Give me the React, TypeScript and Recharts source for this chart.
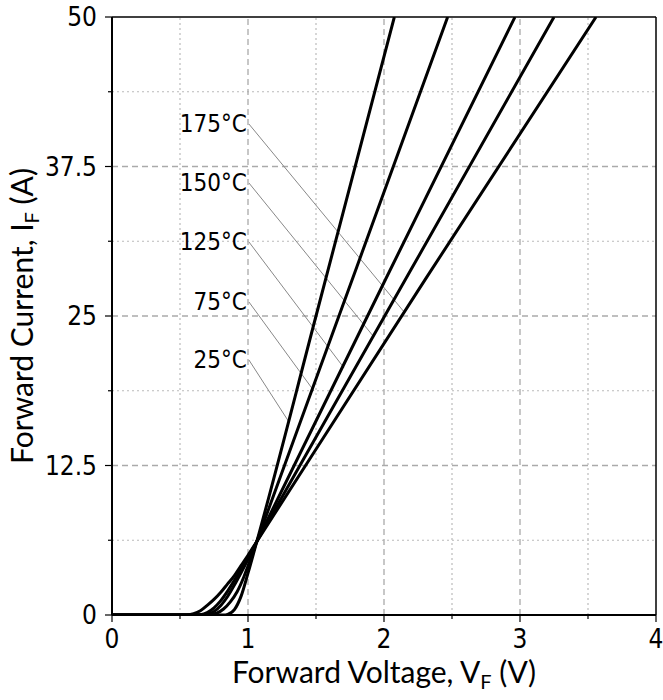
import React from 'react';
import { ComposedChart, Line, XAxis, YAxis, ReferenceLine, Scatter } from 'recharts';

// Forward characteristics (V, A)
const curve25 = [
  { v: 0, i: 0 }, { v: 0.82, i: 0 }, { v: 0.85, i: 0.05 }, { v: 0.9, i: 0.45 }, { v: 0.95, i: 1.6 },
  { v: 1.0, i: 3.5 }, { v: 1.065, i: 6.15 }, { v: 1.5, i: 25.0 }, { v: 2.076, i: 50 },
];
const curve75 = [
  { v: 0, i: 0 }, { v: 0.7, i: 0 }, { v: 0.72, i: 0.02 }, { v: 0.77, i: 0.15 }, { v: 0.82, i: 0.5 },
  { v: 0.87, i: 1.1 }, { v: 0.92, i: 1.95 }, { v: 0.97, i: 3.2 }, { v: 1.0, i: 4.1 }, { v: 1.065, i: 6.15 },
  { v: 1.8, i: 29.1 }, { v: 2.468, i: 50 },
];
const curve125 = [
  { v: 0, i: 0 }, { v: 0.65, i: 0 }, { v: 0.7, i: 0.07 }, { v: 0.75, i: 0.3 }, { v: 0.8, i: 0.8 },
  { v: 0.85, i: 1.55 }, { v: 0.9, i: 2.5 }, { v: 0.95, i: 3.55 }, { v: 1.0, i: 4.65 }, { v: 1.065, i: 6.15 },
  { v: 2.0, i: 27.8 }, { v: 2.963, i: 50 },
];
const curve150 = [
  { v: 0, i: 0 }, { v: 0.6, i: 0 }, { v: 0.65, i: 0.03 }, { v: 0.7, i: 0.2 }, { v: 0.75, i: 0.6 },
  { v: 0.8, i: 1.2 }, { v: 0.85, i: 2.0 }, { v: 0.9, i: 2.9 }, { v: 0.95, i: 3.85 }, { v: 1.0, i: 4.85 },
  { v: 1.065, i: 6.15 }, { v: 2.2, i: 28.9 }, { v: 3.25, i: 50 },
];
const curve175 = [
  { v: 0, i: 0 }, { v: 0.5, i: 0 }, { v: 0.55, i: 0.01 }, { v: 0.6, i: 0.1 }, { v: 0.65, i: 0.35 },
  { v: 0.7, i: 0.8 }, { v: 0.75, i: 1.3 }, { v: 0.8, i: 1.9 }, { v: 0.85, i: 2.6 }, { v: 0.9, i: 3.3 },
  { v: 0.95, i: 4.15 }, { v: 1.0, i: 5.0 }, { v: 1.065, i: 6.15 }, { v: 2.3, i: 28.0 }, { v: 3.559, i: 50 },
];

const seriesList = [curve25, curve75, curve125, curve150, curve175];

// Temperature labels and leader lines
const labelTexts = ['175°C', '150°C', '125°C', '75°C', '25°C'];
const labelV = [1.007, 1.007, 1.007, 1.007, 1.007];
const labelI = [41.05, 36.12, 31.19, 26.17, 21.32];
const leaderEndV = [2.154, 1.926, 1.706, 1.485, 1.301];
const leaderEndI = [25.25, 23.24, 20.65, 18.73, 16.14];

const xTicks = [0, 0.5, 1, 1.5, 2, 2.5, 3, 3.5, 4];
const xMajor = [0, 1, 2, 3, 4];
const yTicks = [0, 6.25, 12.5, 18.75, 25, 31.25, 37.5, 43.75, 50];
const yMajor = [0, 12.5, 25, 37.5, 50];
const xGridMajor = [1, 2, 3];
const xGridMinor = [0.5, 1.5, 2.5, 3.5];
const yGridMajor = [12.5, 25, 37.5];
const yGridMinor = [6.25, 18.75, 31.25, 43.75];

const labelData = labelTexts.map((t, k) => ({ v: labelV[k], i: labelI[k], t }));

const TICK_FONT = "'Liberation Sans Narrow', 'DejaVu Sans Condensed', sans-serif";
const TITLE_FONT = "Lato, 'Open Sans', sans-serif";

const XTick = (props: any) => {
  const { x, y, payload } = props;
  const major = xMajor.includes(payload.value);
  return (
    <g>
      <line x1={x} y1={y} x2={x} y2={y + (major ? 7 : 4)} stroke="#000" strokeWidth={1.2} />
      {major && (
        <text x={x} y={y + 33} textAnchor="middle" fontFamily={TICK_FONT} fontSize={26} fill="#000">
          {payload.value}
        </text>
      )}
    </g>
  );
};

const YTick = (props: any) => {
  const { x, y, payload } = props;
  const major = yMajor.includes(payload.value);
  return (
    <g>
      <line x1={x - (major ? 7 : 4)} y1={y} x2={x} y2={y} stroke="#000" strokeWidth={1.2} />
      {major && (
        <text x={x - 15} y={y + 9} textAnchor="end" fontFamily={TICK_FONT} fontSize={26} fill="#000">
          {payload.value}
        </text>
      )}
    </g>
  );
};

const XTitle = (props: any) => {
  const vb = props.viewBox || { x: 112, y: 615, width: 544 };
  const cx = vb.x + vb.width / 2;
  return (
    <text x={cx} y={vb.y + 68} textAnchor="middle" fontFamily={TITLE_FONT} fontSize={30} fill="#000">
      Forward Voltage, V<tspan fontSize={20} dy={6}>F</tspan><tspan dy={-6}> (V)</tspan>
    </text>
  );
};

const YTitle = () => {
  const cx = 33;
  const cy = 316;
  return (
    <text x={cx} y={cy} transform={`rotate(-90 ${cx} ${cy})`} textAnchor="middle" fontFamily={TITLE_FONT} fontSize={30} fill="#000">
      Forward Current, I<tspan fontSize={20} dy={6}>F</tspan><tspan dy={-6}> (A)</tspan>
    </text>
  );
};

const LabelShape = (props: any) => {
  const { cx, cy, payload } = props;
  return (
    <text x={cx - 2} y={cy + 8} textAnchor="end" fontFamily={TICK_FONT} fontSize={24} fill="#000">
      {payload.t}
    </text>
  );
};

export default function App() {
  return (
    <div style={{ position: 'absolute', left: 0, top: 0 }}>
      <ComposedChart width={663} height={700} margin={{ top: 17, right: 7, bottom: 0, left: 0 }}>
        <XAxis
          type="number"
          dataKey="v"
          domain={[0, 4]}
          ticks={xTicks}
          interval={0}
          tick={<XTick />}
          tickLine={false}
          tickSize={0}
          tickMargin={0}
          axisLine={{ stroke: '#000', strokeWidth: 2 }}
          height={85}
          allowDataOverflow
          label={<XTitle />}
        />
        <YAxis
          type="number"
          domain={[0, 50]}
          ticks={yTicks}
          interval={0}
          tick={<YTick />}
          tickLine={false}
          tickSize={0}
          tickMargin={0}
          axisLine={{ stroke: '#000', strokeWidth: 2 }}
          width={112}
          allowDataOverflow
          label={<YTitle />}
        />
        {xGridMinor.map((v) => (
          <ReferenceLine key={'xm' + v} x={v} stroke="#bbb" strokeWidth={1.2} strokeDasharray="2 3" />
        ))}
        {yGridMinor.map((v) => (
          <ReferenceLine key={'ym' + v} y={v} stroke="#bbb" strokeWidth={1.2} strokeDasharray="2 3" />
        ))}
        {xGridMajor.map((v) => (
          <ReferenceLine key={'xM' + v} x={v} stroke="#aaa" strokeWidth={1.3} strokeDasharray="6 4" />
        ))}
        {yGridMajor.map((v) => (
          <ReferenceLine key={'yM' + v} y={v} stroke="#aaa" strokeWidth={1.3} strokeDasharray="6 4" />
        ))}
        <ReferenceLine y={50} stroke="#000" strokeWidth={1.5} />
        <ReferenceLine x={4} stroke="#000" strokeWidth={1.5} />
        {labelTexts.map((t, k) => (
          <ReferenceLine
            key={'ld' + t}
            segment={[{ x: labelV[k], y: labelI[k] }, { x: leaderEndV[k], y: leaderEndI[k] }]}
            stroke="#888"
            strokeWidth={1}
          />
        ))}
        {seriesList.map((d, k) => (
          <Line
            key={'s' + k}
            data={d}
            dataKey="i"
            type="monotone"
            stroke="#000"
            strokeWidth={3}
            dot={false}
            activeDot={false}
            isAnimationActive={false}
          />
        ))}
        <Scatter data={labelData} dataKey="i" shape={<LabelShape />} isAnimationActive={false} />
      </ComposedChart>
    </div>
  );
}
